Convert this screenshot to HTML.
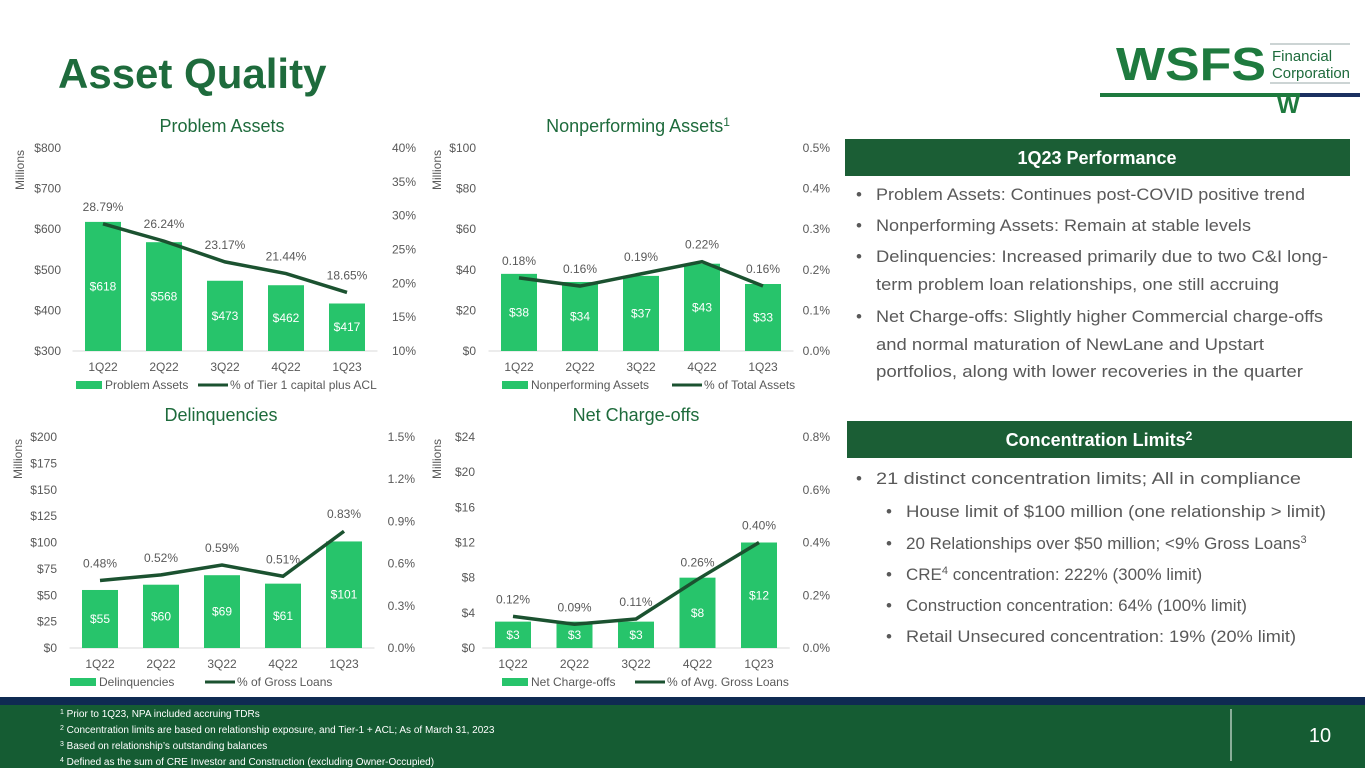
<!DOCTYPE html>
<html><head><meta charset="utf-8">
<style>
html,body{margin:0;padding:0;background:#fff;}
svg{display:block;font-family:"Liberation Sans",sans-serif;}
</style></head>
<body>
<svg id="root" width="1365" height="768" viewBox="0 0 1365 768" xmlns="http://www.w3.org/2000/svg">
  <text x="58" y="88" font-size="42" font-weight="bold" fill="#1e6b3c">Asset Quality</text>
  <g>
    <text x="1116" y="80" font-size="46" font-weight="bold" fill="#1e7a3e" textLength="150" lengthAdjust="spacingAndGlyphs">WSFS</text>
    <line x1="1270" y1="44" x2="1350" y2="44" stroke="#9aa" stroke-width="1"/>
    <text x="1272" y="61" font-size="15" fill="#1e6b3c">Financial</text>
    <text x="1272" y="78" font-size="15" fill="#1e6b3c" textLength="78" lengthAdjust="spacingAndGlyphs">Corporation</text>
    <line x1="1270" y1="83" x2="1350" y2="83" stroke="#9aa" stroke-width="1"/>
    <rect x="1100" y="93" width="200" height="4" fill="#1e7a3e"/>
    <rect x="1300" y="93" width="60" height="4" fill="#1a3060"/>
    <text x="1277" y="113" font-size="24" font-weight="bold" fill="#1e7a3e">W</text>
  </g>
  <g id="charts"></g>

  <g>
    <rect x="845" y="139" width="505" height="37" fill="#1b5e35"/>
    <text x="1097" y="164" font-size="18" font-weight="bold" fill="#fff" text-anchor="middle">1Q23 Performance</text>
    <g font-size="17" fill="#595959">
      <text x="856" y="200">•</text><text x="876" y="200" textLength="429" lengthAdjust="spacingAndGlyphs">Problem Assets: Continues post-COVID positive trend</text>
      <text x="856" y="231">•</text><text x="876" y="231" textLength="375" lengthAdjust="spacingAndGlyphs">Nonperforming Assets: Remain at stable levels</text>
      <text x="856" y="262">•</text><text x="876" y="262" textLength="452" lengthAdjust="spacingAndGlyphs">Delinquencies: Increased primarily due to two C&amp;I long-</text>
      <text x="876" y="290" textLength="403" lengthAdjust="spacingAndGlyphs">term problem loan relationships, one still accruing</text>
      <text x="856" y="322">•</text><text x="876" y="322" textLength="447" lengthAdjust="spacingAndGlyphs">Net Charge-offs: Slightly higher Commercial charge-offs</text>
      <text x="876" y="350" textLength="388" lengthAdjust="spacingAndGlyphs">and normal maturation of NewLane and Upstart</text>
      <text x="876" y="377" textLength="427" lengthAdjust="spacingAndGlyphs">portfolios, along with lower recoveries in the quarter</text>
    </g>
  </g>
  <g>
    <rect x="847" y="421" width="505" height="37" fill="#1b5e35"/>
    <text x="1099" y="446" font-size="18" font-weight="bold" fill="#fff" text-anchor="middle">Concentration Limits<tspan font-size="12" dy="-6">2</tspan></text>
    <g font-size="17" fill="#595959">
      <text x="856" y="484">•</text><text x="876" y="484" textLength="425" lengthAdjust="spacingAndGlyphs">21 distinct concentration limits; All in compliance</text>
      <text x="886" y="517">•</text><text x="906" y="517" textLength="420" lengthAdjust="spacingAndGlyphs">House limit of $100 million (one relationship &gt; limit)</text>
      <text x="886" y="549">•</text><text x="906" y="549">20 Relationships over $50 million; &lt;9% Gross Loans<tspan font-size="11" dy="-6">3</tspan></text>
      <text x="886" y="580">•</text><text x="906" y="580">CRE<tspan font-size="11" dy="-6">4</tspan><tspan dy="6"> concentration: 222% (300% limit)</tspan></text>
      <text x="886" y="611">•</text><text x="906" y="611" textLength="341" lengthAdjust="spacingAndGlyphs">Construction concentration: 64% (100% limit)</text>
      <text x="886" y="642">•</text><text x="906" y="642" textLength="390" lengthAdjust="spacingAndGlyphs">Retail Unsecured concentration: 19% (20% limit)</text>
    </g>
  </g>

  <g>
    <rect x="0" y="697" width="1365" height="8" fill="#0f2a52"/>
    <rect x="0" y="705" width="1365" height="63" fill="#155c33"/>
    <g font-size="10" fill="#fff">
      <text x="60" y="717"><tspan font-size="7" dy="-3">1</tspan><tspan dy="3"> Prior to 1Q23, NPA included accruing TDRs</tspan></text>
      <text x="60" y="733"><tspan font-size="7" dy="-3">2</tspan><tspan dy="3"> Concentration limits are based on relationship exposure, and Tier-1 + ACL; As of March 31, 2023</tspan></text>
      <text x="60" y="749"><tspan font-size="7" dy="-3">3</tspan><tspan dy="3"> Based on relationship’s outstanding balances</tspan></text>
      <text x="60" y="765"><tspan font-size="7" dy="-3">4</tspan><tspan dy="3"> Defined as the sum of CRE Investor and Construction (excluding Owner-Occupied)</tspan></text>
    </g>
    <line x1="1231" y1="709" x2="1231" y2="761" stroke="#fff" stroke-width="1"/>
    <text x="1320" y="742" font-size="20" fill="#fff" text-anchor="middle">10</text>
  </g>
</svg>
<script>
const categories = ["1Q22","2Q22","3Q22","4Q22","1Q23"];
const problemAssets = [618,568,473,462,417];
const problemPct = [28.79,26.24,23.17,21.44,18.65];
const npaValues = [38,34,37,43,33];
const npaPct = [0.18,0.16,0.19,0.22,0.16];
const delinqValues = [55,60,69,61,101];
const delinqPct = [0.48,0.52,0.59,0.51,0.83];
const ncoValues = [3,3,3,8,12];
const ncoPct = [0.12,0.09,0.11,0.26,0.40];
const problemLeftTicks = [300,400,500,600,700,800];
const problemRightTicks = [10,15,20,25,30,35,40];
const npaLeftTicks = [0,20,40,60,80,100];
const npaRightTicks = [0,0.1,0.2,0.3,0.4,0.5];
const delinqLeftTicks = [0,25,50,75,100,125,150,175,200];
const delinqRightTicks = [0,0.3,0.6,0.9,1.2,1.5];
const ncoLeftTicks = [0,4,8,12,16,20,24];
const ncoRightTicks = [0,0.2,0.4,0.6,0.8];

const NS="http://www.w3.org/2000/svg";
const root=document.getElementById('charts');
function mk(tag,attrs,parent,text){const e=document.createElementNS(NS,tag);for(const k in attrs)e.setAttribute(k,attrs[k]);if(text!==undefined)e.textContent=text;parent.appendChild(e);return e;}

function chart(o){
  const g=mk('g',{},root);
  
  
  const L=o.lt, R=o.rt;
  const yL=v=>o.yb-(v-L[0])/(L[L.length-1]-L[0])*(o.yb-o.yt);
  const yR=v=>o.yb-(v-R[0])/(R[R.length-1]-R[0])*(o.yb-o.yt);
  const xC=i=>o.x0+i*o.step;
  const t=mk('text',{x:o.tx,y:o.yt-16,'font-size':18,fill:'#1e6b3c','text-anchor':'middle'},g,o.title);
  
  
  if(o.sup){mk('tspan',{'font-size':12,dy:-6},t,o.sup);}
  const ml=mk('text',{x:0,y:0,'font-size':12,fill:'#595959','text-anchor':'middle',transform:`translate(${o.mx},${o.yt+22}) rotate(-90)`},g,'Millions');
  
  
  L.forEach(v=>{const e=mk('text',{x:o.lx,y:yL(v)+4,'font-size':12,fill:'#595959','text-anchor':'end'},g,'$'+v);
    });
  R.forEach(v=>{const e=mk('text',{x:o.rx,y:yR(v)+4,'font-size':12,fill:'#595959','text-anchor':'end'},g,v.toFixed(o.rd)+'%');
    });
  mk('line',{x1:o.x0-o.step/2,x2:xC(4)+o.step/2,y1:o.yb,y2:o.yb,stroke:'#d9d9d9'},g);
  o.vals.forEach((v,i)=>{
    const b=mk('rect',{x:xC(i)-18,y:yL(v),width:36,height:o.yb-yL(v),fill:'#27c46b'},g);
    
    
    const lb=mk('text',{x:xC(i),y:(yL(v)+o.yb)/2+4,'font-size':12,fill:'#fff','text-anchor':'middle'},g,'$'+v);
    
    
    const cl=mk('text',{x:xC(i),y:o.yb+20,'font-size':12,fill:'#595959','text-anchor':'middle'},g,categories[i]);
    
    
  });
  const pts=o.pct.map((v,i)=>xC(i)+','+yR(v)).join(' ');
  const pl=mk('polyline',{points:pts,fill:'none',stroke:'#1b5230','stroke-width':3.5},g);
  
  
  o.pct.forEach((v,i)=>{const e=mk('text',{x:xC(i),y:yR(v)-13,'font-size':12,fill:'#595959','text-anchor':'middle'},g,v.toFixed(2)+'%');
    });
  const ly=o.yb+38;
  const lg=mk('g',{},g);
  
  
  mk('rect',{x:o.legx,y:ly-8,width:26,height:8,fill:'#27c46b'},lg);
  mk('text',{x:o.legx+29,y:ly,'font-size':12,fill:'#595959'},lg,o.l1);
  const l2=o.legx+o.l2off;
  mk('line',{x1:l2,x2:l2+30,y1:ly-4,y2:ly-4,stroke:'#1b5230','stroke-width':3},lg);
  mk('text',{x:l2+32,y:ly,'font-size':12,fill:'#595959'},lg,o.l2);
}
chart({name:'problem-assets-chart',title:'Problem Assets',tx:222,yt:148,yb:351,lt:problemLeftTicks,rt:problemRightTicks,rd:0,vals:problemAssets,pct:problemPct,x0:103,step:61,lx:61,mx:24,rx:416,l1:'Problem Assets',l2:'% of Tier 1 capital plus ACL',legx:76,l2off:122});
chart({name:'nonperforming-assets-chart',title:'Nonperforming Assets',sup:'1',tx:638,yt:148,yb:351,lt:npaLeftTicks,rt:npaRightTicks,rd:1,vals:npaValues,pct:npaPct,x0:519,step:61,lx:476,mx:441,rx:830,l1:'Nonperforming Assets',l2:'% of Total Assets',legx:502,l2off:170});
chart({name:'delinquencies-chart',title:'Delinquencies',tx:221,yt:437,yb:648,lt:delinqLeftTicks,rt:delinqRightTicks,rd:1,vals:delinqValues,pct:delinqPct,x0:100,step:61,lx:57,mx:22,rx:415,l1:'Delinquencies',l2:'% of Gross Loans',legx:70,l2off:135});
chart({name:'net-charge-offs-chart',title:'Net Charge-offs',tx:636,yt:437,yb:648,lt:ncoLeftTicks,rt:ncoRightTicks,rd:1,vals:ncoValues,pct:ncoPct,x0:513,step:61.5,lx:475,mx:441,rx:830,l1:'Net Charge-offs',l2:'% of Avg. Gross Loans',legx:502,l2off:133});
</script>
</body></html>
